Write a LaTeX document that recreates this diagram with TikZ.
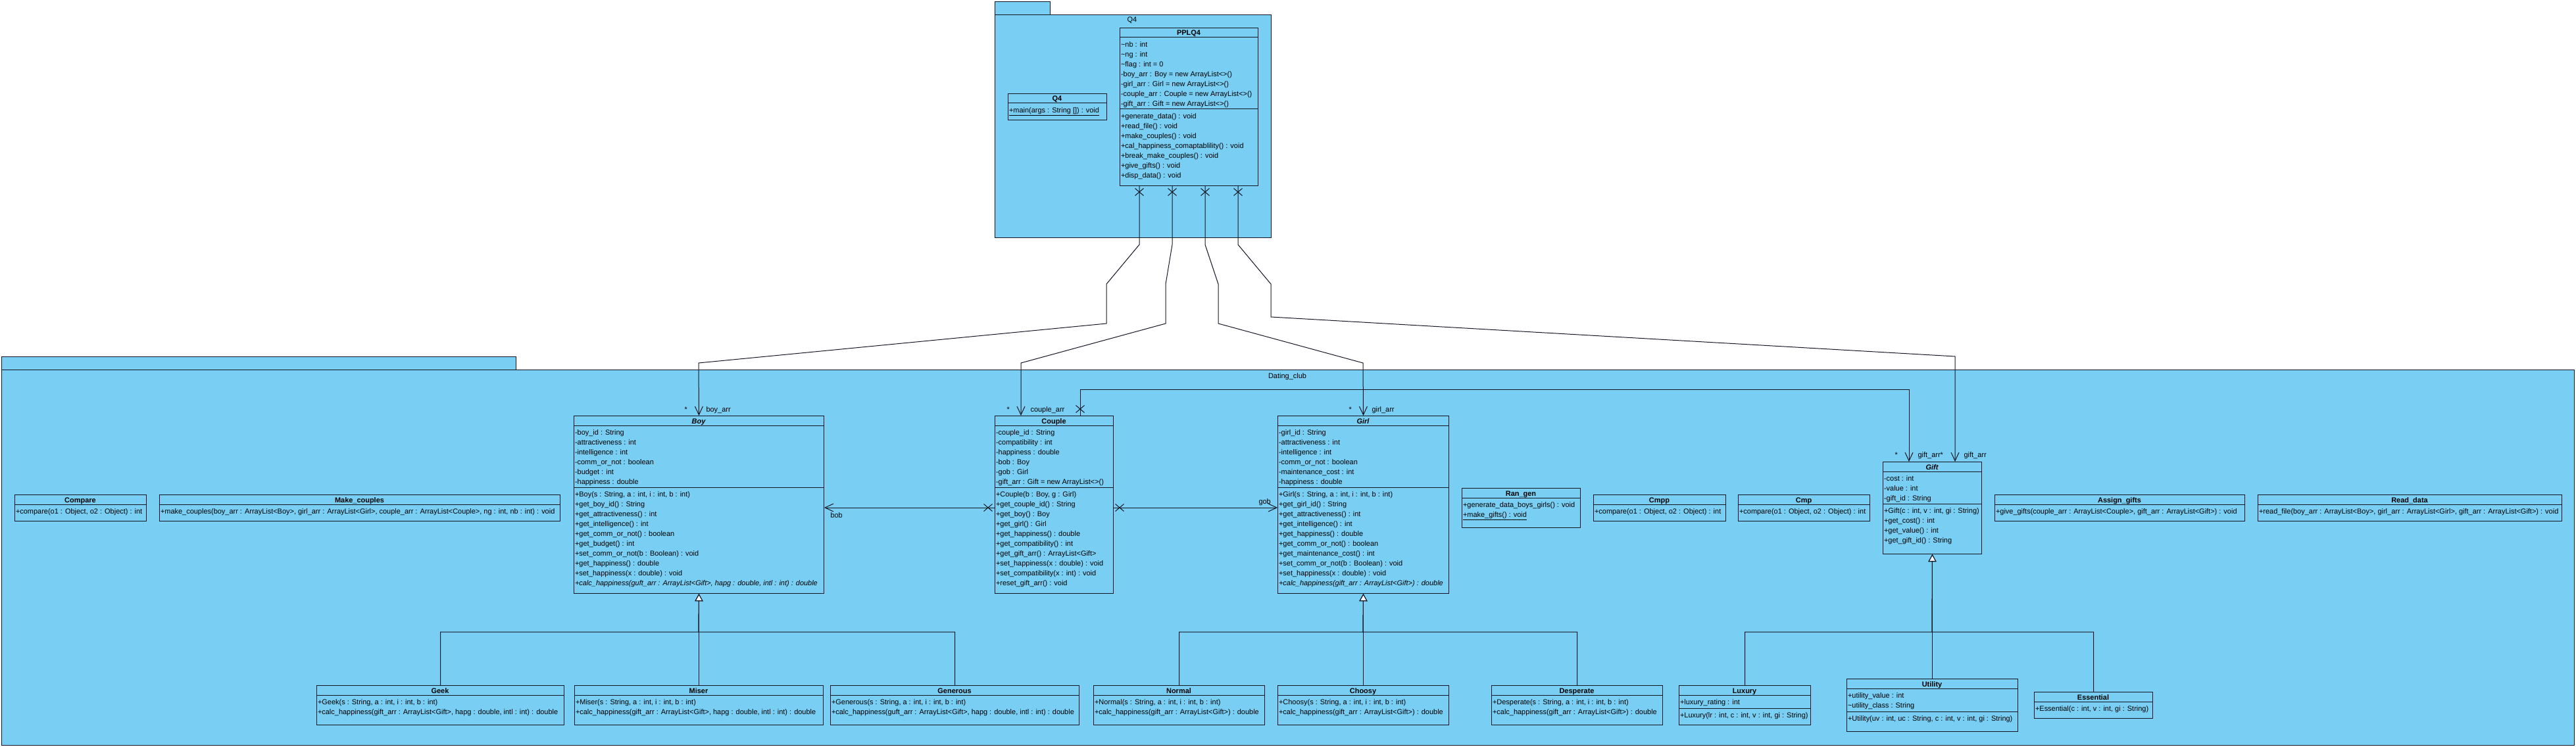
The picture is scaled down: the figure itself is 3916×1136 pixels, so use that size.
\documentclass[tikz,border=0pt]{standalone}
\usepackage{fontspec}
\setmainfont{Liberation Sans}
\usetikzlibrary{arrows.meta,shapes.misc}
\definecolor{pkgblue}{RGB}{121,206,243}
\definecolor{umlline}{RGB}{20,20,35}
\newlength{\pxu}
\setlength{\pxu}{0.25mm}
\begin{document}
\fontsize{7.8pt}{10.67pt}\selectfont
\begin{tikzpicture}[x=0.25mm,y=-0.25mm,line width=0.25mm,umlline,
  pkg/.style={draw,fill=pkgblue,anchor=north west,inner sep=0pt},
  classbox/.style={draw,fill=pkgblue,anchor=north west,inner sep=0pt},
  ctitle/.style={anchor=base,inner sep=0pt,font=\bfseries,text=black},
  members/.style={anchor=north west,inner sep=0pt,align=left,text=black},
  lbl/.style={anchor=base west,inner sep=0pt,text=black},
  assoc/.style={-{Straight Barb[length=3.2mm,width=3mm]}},
  inherit/.style={-{Triangle[length=2.8mm,width=3mm,fill=white]}},
  xmark/.style={cross out,draw,minimum width=12\pxu,minimum height=10\pxu,inner sep=0pt}]
\fill[white] (0,0) rectangle (3916,1136);
\useasboundingbox (0,0) rectangle (3916,1136);

\node[pkg,minimum width=84\pxu,minimum height=20\pxu] (q4tab) at (1512,2) {};
\node[pkg,minimum width=420\pxu,minimum height=339\pxu] (q4pkg) at (1512,22) {};
\node[lbl,anchor=base] (q4lbl) at (1721,34) {Q4};
\node[pkg,minimum width=782\pxu,minimum height=20\pxu] (dctab) at (2,542) {};
\node[pkg,minimum width=3911\pxu,minimum height=571\pxu] (dcpkg) at (2,562) {};
\node[lbl,anchor=base] (dclbl) at (1957,575) {Dating\_club};

\node[classbox,minimum width=150\pxu,minimum height=40\pxu] (q4) at (1532,142) {};
\node[ctitle] (q4t) at (1607,154) {Q4};
\draw (1532,157) -- (1682,157);
\node[members] (q4m) at (1533.5,163) {\underline{+main(args : String []) : void}};

\node[classbox,minimum width=210\pxu,minimum height=240\pxu] (pplq4) at (1702,42) {};
\node[ctitle] (pplq4t) at (1807,54) {PPLQ4};
\draw (1702,57) -- (1912,57) (1702,166) -- (1912,166);
\node[members] (pplq4a) at (1703.5,63) {\textasciitilde nb : int\\\textasciitilde ng : int\\\textasciitilde flag : int = 0\\-boy\_arr : Boy = new ArrayList<>()\\-girl\_arr : Girl = new ArrayList<>()\\-couple\_arr : Couple = new ArrayList<>()\\-gift\_arr : Gift = new ArrayList<>()};
\node[members] (pplq4m) at (1703.5,172) {+generate\_data() : void\\+read\_file() : void\\+make\_couples() : void\\+cal\_happiness\_comaptablility() : void\\+break\_make\_couples() : void\\+give\_gifts() : void\\+disp\_data() : void};

\node[classbox,minimum width=200\pxu,minimum height=40\pxu] (compare) at (22,752) {};
\node[ctitle] (comparet) at (122,764) {Compare};
\draw (22,767) -- (222,767);
\node[members] (comparem) at (23.5,773) {+compare(o1 : Object, o2 : Object) : int};

\node[classbox,minimum width=609\pxu,minimum height=40\pxu] (makec) at (242,752) {};
\node[ctitle] (makect) at (546.5,764) {Make\_couples};
\draw (242,767) -- (851,767);
\node[members] (makecm) at (243.5,773) {+make\_couples(boy\_arr : ArrayList<Boy>, girl\_arr : ArrayList<Girl>, couple\_arr : ArrayList<Couple>, ng : int, nb : int) : void};

\node[classbox,minimum width=380\pxu,minimum height=270\pxu] (boy) at (872,632) {};
\node[ctitle,font=\bfseries\itshape] (boyt) at (1062,644) {Boy};
\draw (872,647) -- (1252,647) (872,741) -- (1252,741);
\node[members] (boya) at (873.5,653) {-boy\_id : String\\-attractiveness : int\\-intelligence : int\\-comm\_or\_not : boolean\\-budget : int\\-happiness : double};
\node[members] (boym) at (873.5,747) {+Boy(s : String, a : int, i : int, b : int)\\+get\_boy\_id() : String\\+get\_attractiveness() : int\\+get\_intelligence() : int\\+get\_comm\_or\_not() : boolean\\+get\_budget() : int\\+set\_comm\_or\_not(b : Boolean) : void\\+get\_happiness() : double\\+set\_happiness(x : double) : void\\\textit{+calc\_happiness(guft\_arr : ArrayList<Gift>, hapg : double, intl : int) : double}};

\node[classbox,minimum width=180\pxu,minimum height=270\pxu] (couple) at (1512,632) {};
\node[ctitle] (couplet) at (1602,644) {Couple};
\draw (1512,647) -- (1692,647) (1512,741) -- (1692,741);
\node[members] (couplea) at (1513.5,653) {-couple\_id : String\\-compatibility : int\\-happiness : double\\-bob : Boy\\-gob : Girl\\-gift\_arr : Gift = new ArrayList<>()};
\node[members] (couplem) at (1513.5,747) {+Couple(b : Boy, g : Girl)\\+get\_couple\_id() : String\\+get\_boy() : Boy\\+get\_girl() : Girl\\+get\_happiness() : double\\+get\_compatibility() : int\\+get\_gift\_arr() : ArrayList<Gift>\\+set\_happiness(x : double) : void\\+set\_compatibility(x : int) : void\\+reset\_gift\_arr() : void};

\node[classbox,minimum width=260\pxu,minimum height=270\pxu] (girl) at (1942,632) {};
\node[ctitle,font=\bfseries\itshape] (girlt) at (2072,644) {Girl};
\draw (1942,647) -- (2202,647) (1942,741) -- (2202,741);
\node[members] (girla) at (1943.5,653) {-girl\_id : String\\-attractiveness : int\\-intelligence : int\\-comm\_or\_not : boolean\\-maintenance\_cost : int\\-happiness : double};
\node[members] (girlm) at (1943.5,747) {+Girl(s : String, a : int, i : int, b : int)\\+get\_girl\_id() : String\\+get\_attractiveness() : int\\+get\_intelligence() : int\\+get\_happiness() : double\\+get\_comm\_or\_not() : boolean\\+get\_maintenance\_cost() : int\\+set\_comm\_or\_not(b : Boolean) : void\\+set\_happiness(x : double) : void\\\textit{+calc\_happiness(gift\_arr : ArrayList<Gift>) : double}};

\node[classbox,minimum width=180\pxu,minimum height=60\pxu] (rangen) at (2222,742) {};
\node[ctitle] (rangent) at (2312,754) {Ran\_gen};
\draw (2222,757) -- (2402,757);
\node[members] (rangenm) at (2223.5,763) {+generate\_data\_boys\_girls() : void\\\underline{+make\_gifts() : void}};

\node[classbox,minimum width=201\pxu,minimum height=40\pxu] (cmpp) at (2422,752) {};
\node[ctitle] (cmppt) at (2522.5,764) {Cmpp};
\draw (2422,767) -- (2623,767);
\node[members] (cmppm) at (2423.5,773) {+compare(o1 : Object, o2 : Object) : int};

\node[classbox,minimum width=200\pxu,minimum height=40\pxu] (cmp) at (2642,752) {};
\node[ctitle] (cmpt) at (2742,764) {Cmp};
\draw (2642,767) -- (2842,767);
\node[members] (cmpm) at (2643.5,773) {+compare(o1 : Object, o2 : Object) : int};

\node[classbox,minimum width=150\pxu,minimum height=140\pxu] (gift) at (2862,702) {};
\node[ctitle,font=\bfseries\itshape] (giftt) at (2937,714) {Gift};
\draw (2862,717) -- (3012,717) (2862,766) -- (3012,766);
\node[members] (gifta) at (2863.5,723) {-cost : int\\-value : int\\-gift\_id : String};
\node[members] (giftm) at (2863.5,772) {+Gift(c : int, v : int, gi : String)\\+get\_cost() : int\\+get\_value() : int\\+get\_gift\_id() : String};

\node[classbox,minimum width=380\pxu,minimum height=40\pxu] (assign) at (3032,752) {};
\node[ctitle] (assignt) at (3222,764) {Assign\_gifts};
\draw (3032,767) -- (3412,767);
\node[members] (assignm) at (3033.5,773) {+give\_gifts(couple\_arr : ArrayList<Couple>, gift\_arr : ArrayList<Gift>) : void};

\node[classbox,minimum width=462\pxu,minimum height=40\pxu] (readd) at (3432,752) {};
\node[ctitle] (readdt) at (3663,764) {Read\_data};
\draw (3432,767) -- (3894,767);
\node[members] (readdm) at (3433.5,773) {+read\_file(boy\_arr : ArrayList<Boy>, girl\_arr : ArrayList<Girl>, gift\_arr : ArrayList<Gift>) : void};

\node[classbox,minimum width=376\pxu,minimum height=60\pxu] (geek) at (481,1042) {};
\node[ctitle] (geekt) at (669,1054) {Geek};
\draw (481,1057) -- (857,1057);
\node[members] (geekm) at (482.5,1063) {+Geek(s : String, a : int, i : int, b : int)\\+calc\_happiness(gift\_arr : ArrayList<Gift>, hapg : double, intl : int) : double};

\node[classbox,minimum width=378\pxu,minimum height=60\pxu] (miser) at (873,1042) {};
\node[ctitle] (misert) at (1062,1054) {Miser};
\draw (873,1057) -- (1251,1057);
\node[members] (miserm) at (874.5,1063) {+Miser(s : String, a : int, i : int, b : int)\\+calc\_happiness(gift\_arr : ArrayList<Gift>, hapg : double, intl : int) : double};

\node[classbox,minimum width=378\pxu,minimum height=60\pxu] (generous) at (1262,1042) {};
\node[ctitle] (generoust) at (1451,1054) {Generous};
\draw (1262,1057) -- (1640,1057);
\node[members] (generousm) at (1263.5,1063) {+Generous(s : String, a : int, i : int, b : int)\\+calc\_happiness(guft\_arr : ArrayList<Gift>, hapg : double, intl : int) : double};

\node[classbox,minimum width=260\pxu,minimum height=60\pxu] (normal) at (1662,1042) {};
\node[ctitle] (normalt) at (1792,1054) {Normal};
\draw (1662,1057) -- (1922,1057);
\node[members] (normalm) at (1663.5,1063) {+Normal(s : String, a : int, i : int, b : int)\\+calc\_happiness(gift\_arr : ArrayList<Gift>) : double};

\node[classbox,minimum width=260\pxu,minimum height=60\pxu] (choosy) at (1942,1042) {};
\node[ctitle] (choosyt) at (2072,1054) {Choosy};
\draw (1942,1057) -- (2202,1057);
\node[members] (choosym) at (1943.5,1063) {+Choosy(s : String, a : int, i : int, b : int)\\+calc\_happiness(gift\_arr : ArrayList<Gift>) : double};

\node[classbox,minimum width=260\pxu,minimum height=60\pxu] (desperate) at (2267,1042) {};
\node[ctitle] (desperatet) at (2397,1054) {Desperate};
\draw (2267,1057) -- (2527,1057);
\node[members] (desperatem) at (2268.5,1063) {+Desperate(s : String, a : int, i : int, b : int)\\+calc\_happiness(gift\_arr : ArrayList<Gift>) : double};

\node[classbox,minimum width=200\pxu,minimum height=60\pxu] (luxury) at (2552,1042) {};
\node[ctitle] (luxuryt) at (2652,1054) {Luxury};
\draw (2552,1057) -- (2752,1057) (2552,1077) -- (2752,1077);
\node[members] (luxurya) at (2553.5,1063) {+luxury\_rating : int};
\node[members] (luxurym) at (2553.5,1083) {+Luxury(lr : int, c : int, v : int, gi : String)};

\node[classbox,minimum width=260\pxu,minimum height=80\pxu] (utility) at (2807,1032) {};
\node[ctitle] (utilityt) at (2937,1044) {Utility};
\draw (2807,1047) -- (3067,1047) (2807,1082) -- (3067,1082);
\node[members] (utilitya) at (2808.5,1053) {+utility\_value : int\\\textasciitilde utility\_class : String};
\node[members] (utilitym) at (2808.5,1088) {+Utility(uv : int, uc : String, c : int, v : int, gi : String)};

\node[classbox,minimum width=180\pxu,minimum height=40\pxu] (essential) at (3092,1052) {};
\node[ctitle] (essentialt) at (3182,1064) {Essential};
\draw (3092,1067) -- (3272,1067);
\node[members] (essentialm) at (3093.5,1073) {+Essential(c : int, v : int, gi : String)};

\draw[assoc] (pplq4.south -| 1732,0) -- (1732,372) -- (1682,432) -- (1682,492) -- (1062,552) -- (boy.north);
\draw[assoc] (pplq4.south -| 1782,0) -- (1782,372) -- (1772,432) -- (1772,492) -- (1552,552) -- (couple.north -| 1552,0);
\draw[assoc] (pplq4.south -| 1832,0) -- (1832,372) -- (1852,432) -- (1852,492) -- (2072,552) -- (girl.north);
\draw[assoc] (pplq4.south -| 1882,0) -- (1882,372) -- (1932,432) -- (1932,482) -- (2972,542) -- (gift.north -| 2972,0);
\node[xmark] (x1) at (1732,292) {};
\node[xmark] (x2) at (1782,292) {};
\node[xmark] (x3) at (1832,292) {};
\node[xmark] (x4) at (1882,292) {};

\draw[assoc] (couple.north -| 1642,0) -- (1642,592) -- (2902,592) -- (gift.north -| 2902,0);
\draw[assoc] (couple.west |- 0,772) -- (boy.east |- 0,772);
\draw[assoc] (couple.east |- 0,772) -- (girl.west |- 0,772);
\node[xmark] (x5) at (1642,622) {};
\node[xmark] (x6) at (1502,772) {};
\node[xmark] (x7) at (1702,772) {};

\node[lbl] (s1) at (1040,626) {*};
\node[lbl] (l1) at (1073,626) {boy\_arr};
\node[lbl] (s2) at (1530,626) {*};
\node[lbl] (l2) at (1566,626) {couple\_arr};
\node[lbl] (s3) at (2050,626) {*};
\node[lbl] (l3) at (2085,626) {girl\_arr};
\node[lbl] (s4) at (2880,695) {*};
\node[lbl] (l4) at (2915,695) {gift\_arr*};
\node[lbl] (l5) at (2985,695) {gift\_arr};
\node[lbl] (l6) at (1262,787) {bob};
\node[lbl] (l7) at (1913,766) {gob};

\coordinate (boyhub) at (1062,961);
\coordinate (girlhub) at (2072,961);
\coordinate (gifthub) at (2937,961);
\draw[inherit] (geek.north) |- (boyhub) -- (boy.south);
\draw[inherit] (generous.north) |- (boyhub) -- (boy.south);
\draw[inherit] (miser.north) -- (boy.south);
\draw[inherit] (normal.north) |- (girlhub) -- (girl.south);
\draw[inherit] (desperate.north) |- (girlhub) -- (girl.south);
\draw[inherit] (choosy.north) -- (girl.south);
\draw[inherit] (luxury.north) |- (gifthub) -- (gift.south);
\draw[inherit] (essential.north) |- (gifthub) -- (gift.south);
\draw[inherit] (utility.north) -- (gift.south);
\end{tikzpicture}
\end{document}
